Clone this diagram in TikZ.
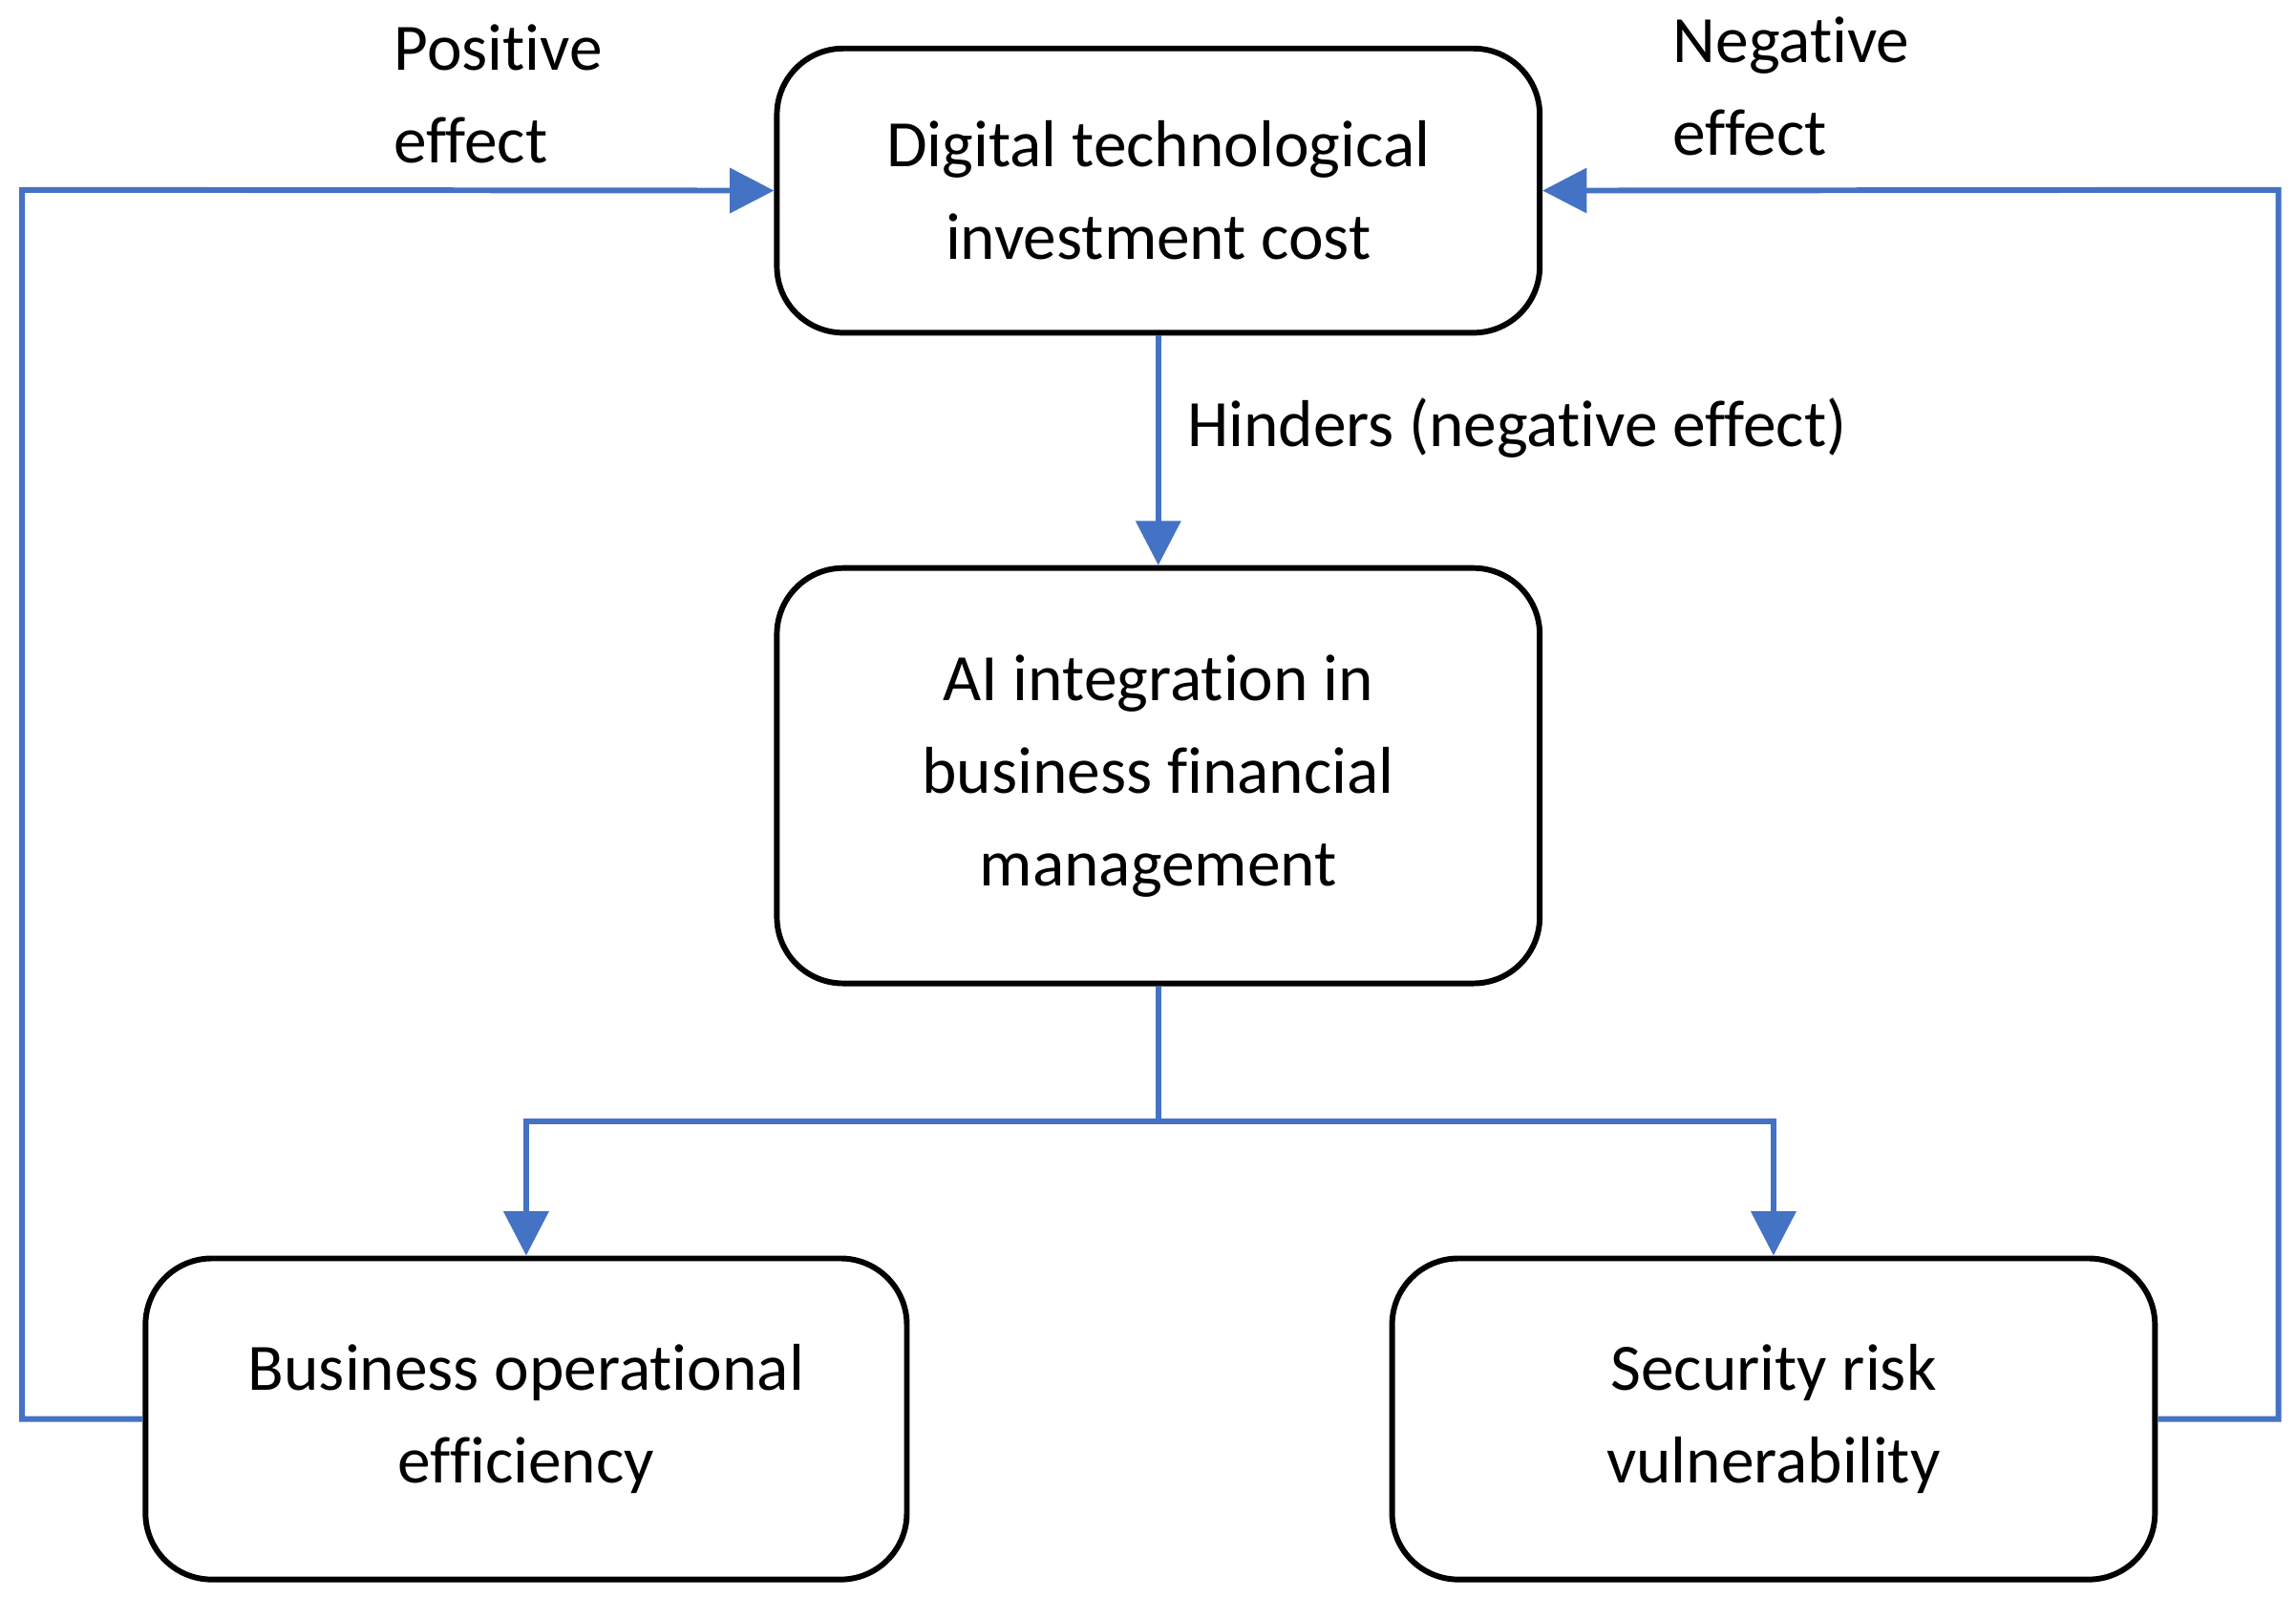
\documentclass[tikz,border=0pt]{standalone}
\usepackage{fontspec}
\setmainfont{Carlito}[Ligatures=NoCommon]
\usetikzlibrary{arrows.meta}
\definecolor{lblue}{HTML}{4472C4}
\begin{document}
\begin{tikzpicture}[x=0.01cm,y=-0.01cm,
  box/.style={draw=black,line width=1.1pt,rounded corners=0.45cm,align=center,inner sep=0pt,font=\fontsize{12.8}{17.9}\selectfont},
  link/.style={draw=lblue,line width=1.1pt,-{Triangle[length=0.3cm,width=0.3cm]}},
  lbl/.style={align=left,font=\fontsize{12.8}{17.9}\selectfont,inner sep=0pt,anchor=north west}]
\useasboundingbox (0,0) rectangle (1560,1085);
\node[box,minimum width=5.18cm,minimum height=1.93cm] (top) at (787,129.5) {Digital technological\\investment cost};
\node[box,minimum width=5.18cm,minimum height=2.82cm] (mid) at (787,527) {AI integration in\\business financial\\management};
\node[box,minimum width=5.17cm,minimum height=2.18cm] (bl) at (357.5,964) {Business operational\\efficiency};
\node[box,minimum width=5.18cm,minimum height=2.18cm] (br) at (1205,964) {Security risk\\vulnerability};
\coordinate (lc) at (15,129);
\coordinate (rc) at (1548,129);
\coordinate (split) at (787,762);
\draw[link] (top.south) -- (mid.north);
\draw[link] (bl.west) -| (lc) -- (top.west);
\draw[link] (br.east) -| (rc) -- (top.east);
\draw[draw=lblue,line width=1.1pt] (mid.south) -- (split);
\draw[link] (split) -| (bl.north);
\draw[link] (split) -| (br.north);
\node[lbl] (hl) at (806,270) {Hinders (negative effect)};
\node[lbl] (pl) at (267,16) {Positive\\effect};
\node[lbl] (nl) at (1136,11) {Negative\\effect};
\end{tikzpicture}
\end{document}
